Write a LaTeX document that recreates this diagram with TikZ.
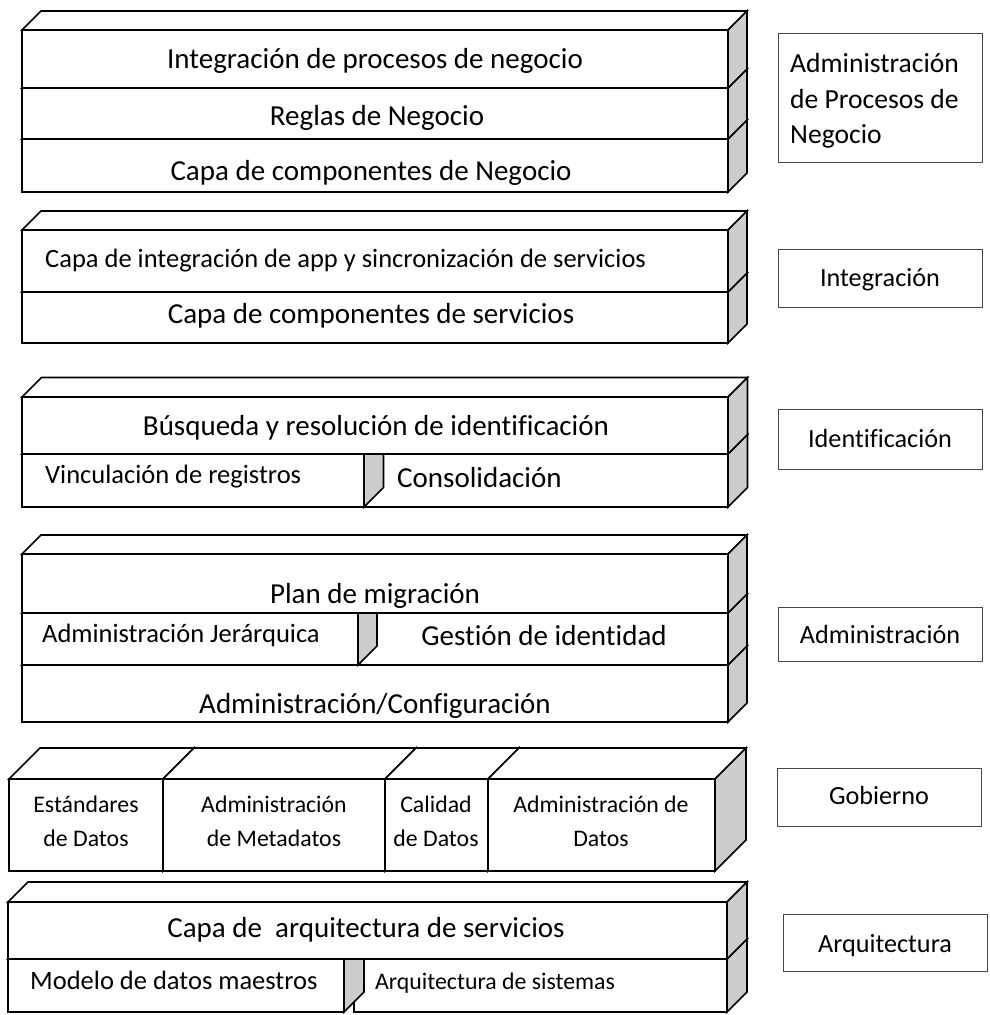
\documentclass[tikz,border=0pt]{standalone}
\usepackage{fontspec}
\setmainfont{Carlito}[Ligatures=CommonOff]
\definecolor{sidegray}{RGB}{204,204,204}
\definecolor{framegray}{RGB}{70,70,70}
% a Word-style cube: front face (x1,y1)-(x2,y2), depth d
\newcommand\drawcube[5]{%
  \filldraw[face] (#1,#2) rectangle (#3,#4);
  \filldraw[face] (#1,#2) -- (#1+#5,#2-#5) -- (#3+#5,#2-#5) -- (#3,#2) -- cycle;
  \filldraw[side] (#3,#2) -- (#3+#5,#2-#5) -- (#3+#5,#4-#5) -- (#3,#4) -- cycle;
}
\tikzset{
  face/.style={draw=black, fill=white, line width=1.6pt, line join=miter},
  side/.style={face, fill=sidegray},
  labelbox/.style={draw=framegray, line width=1pt, fill=white},
  txt/.style={inner sep=0pt, anchor=base},
  txtl/.style={inner sep=0pt, anchor=base west},
  big/.style={font=\fontsize{29}{33}\selectfont},
  mid/.style={font=\fontsize{26.5}{30}\selectfont},
  small/.style={font=\fontsize{23.8}{27}\selectfont},
  lab/.style={font=\fontsize{26.2}{30}\selectfont},
  labbig/.style={font=\fontsize{27.6}{31}\selectfont},
}
\begin{document}
\begin{tikzpicture}[x=1pt, y=-1pt]
\useasboundingbox (0,0) rectangle (989,1015);

% ---- business process layer
\drawcube{22}{139}{728}{192}{19}
\drawcube{22}{88}{728}{139}{19}
\drawcube{22}{30}{728}{88}{19}
\node[txt, big] (bp1) at (375,68) {Integración de procesos de negocio};
\node[txt, big] (bp2) at (377,125) {Reglas de Negocio};
\node[txt, big] (bp3) at (371,180) {Capa de componentes de Negocio};

% ---- integration layer
\drawcube{22}{292}{728}{343}{19}
\drawcube{22}{230}{728}{292}{19}
\node[txtl, mid] (in1) at (45,267) {Capa de integración de app y sincronización de servicios};
\node[txt, big] (in2) at (371,323) {Capa de componentes de servicios};

% ---- identification layer
\drawcube{366}{454}{728}{507}{19.5}
\drawcube{22}{454}{364}{507}{19.5}
\drawcube{22}{397}{728}{454}{19.5}
\node[txt, big] (id1) at (376,435) {Búsqueda y resolución de identificación};
\node[txtl, mid] (id2) at (45,483) {Vinculación de registros};
\node[txtl, big] (id3) at (397,487) {Consolidación};

% ---- administration layer
\drawcube{22}{665}{728}{722}{19}
\drawcube{360}{613}{728}{665}{19}
\drawcube{22}{613}{358}{665}{19}
\drawcube{22}{554}{728}{613}{19}
\node[txt, big] (ad1) at (375,603) {Plan de migración};
\node[txtl, mid] (ad2) at (42,642) {Administración Jerárquica};
\node[txt, big] (ad3) at (544,645) {Gestión de identidad};
\node[txt, big] (ad4) at (375,713) {Administración/Configuración};

% ---- governance layer
\drawcube{9}{779}{163}{871}{31}
\drawcube{163}{779}{385}{871}{31}
\drawcube{385}{779}{488}{871}{31}
\drawcube{488}{779}{715}{871}{31}
\node[txt, small] (go1a) at (86,812) {Estándares};
\node[txt, small] (go1b) at (86,846) {de Datos};
\node[txt, small] (go2a) at (274,812) {Administración};
\node[txt, small] (go2b) at (274,846) {de Metadatos};
\node[txt, small] (go3a) at (436,812) {Calidad};
\node[txt, small] (go3b) at (436,846) {de Datos};
\node[txt, small] (go4a) at (601,812) {Administración de};
\node[txt, small] (go4b) at (601,846) {Datos};

% ---- architecture layer
\drawcube{354}{959}{727}{1012}{20}
\drawcube{8}{959}{344}{1012}{20}
\drawcube{8}{902}{727}{959}{20}
\node[txt, big] (ar1) at (366,937) {Capa de\ \ arquitectura de servicios};
\node[txtl, mid] (ar2) at (30,989) {Modelo de datos maestros};
\node[txtl, small] (ar3) at (375,989) {Arquitectura de sistemas};

% ---- layer names
\node[labelbox, minimum width=204, minimum height=129] (lbp) at (880,97.5) {};
\node[txtl, labbig] (lbp1) at (790,72) {Administración};
\node[txtl, labbig] (lbp2) at (790,108) {de Procesos de};
\node[txtl, labbig] (lbp3) at (790,143) {Negocio};
\node[labelbox, minimum width=204, minimum height=58] (lin) at (880,278) {};
\node[txt, lab] (lin1) at (lin.center |- 0,286) {Integración};
\node[labelbox, minimum width=204, minimum height=60] (lid) at (880,439) {};
\node[txt, lab] (lid1) at (lid.center |- 0,447) {Identificación};
\node[labelbox, minimum width=204, minimum height=54] (lad) at (880,634) {};
\node[txt, lab] (lad1) at (lad.center |- 0,643) {Administración};
\node[labelbox, minimum width=204, minimum height=58] (lgo) at (879,797) {};
\node[txt, lab] (lgo1) at (lgo.center |- 0,804) {Gobierno};
\node[labelbox, minimum width=204, minimum height=57] (lar) at (885,942.5) {};
\node[txt, lab] (lar1) at (lar.center |- 0,952) {Arquitectura};
\end{tikzpicture}
\end{document}
